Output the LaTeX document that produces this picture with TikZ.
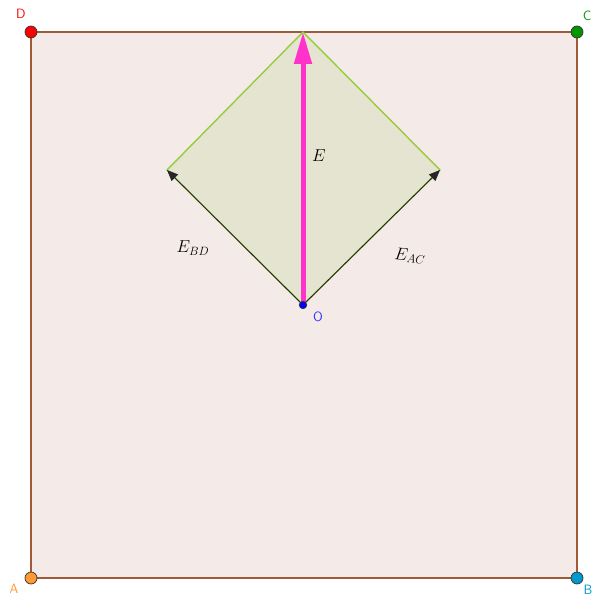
\documentclass[tikz,border=0pt]{standalone}
\usepackage{tikz}
\usetikzlibrary{arrows.meta, positioning, calc}
\definecolor{sqfill}{RGB}{244,234,231}
\definecolor{sqedge}{RGB}{160,90,55}
\definecolor{dmfill}{RGB}{229,228,208}
\definecolor{dmedge}{RGB}{150,205,60}
\definecolor{emag}{RGB}{255,51,204}
\definecolor{ptred}{RGB}{255,0,0}
\definecolor{ptgreen}{RGB}{0,150,0}
\definecolor{ptorange}{RGB}{255,153,51}
\definecolor{ptblue}{RGB}{0,153,204}

\begin{document}
\begin{tikzpicture}[x=1pt, y=-1pt,
    pt/.style={circle, draw=black!80, line width=0.7pt, inner sep=0pt, minimum size=12pt},
    lbl/.style={font=\fontsize{13.5}{15}\selectfont\sffamily},
    mlbl/.style={font=\fontsize{18}{20}\selectfont},
    vec/.style={-{Triangle[length=11pt,width=9pt]}, line width=0.9pt, black!85}
  ]
    \useasboundingbox (0,0) rectangle (593,599);
    % corners of the square
    \coordinate (pA) at (31,578);
    \coordinate (pB) at (577,578);
    \coordinate (pC) at (577,32);
    \coordinate (pD) at (31,32);
    \draw[sqedge, line width=1.4pt, fill=sqfill] (pA) -- (pB) -- (pC) -- (pD) -- cycle;

    % the rhombus of the two fields
    \coordinate (o) at (303,305);
    \coordinate (top) at (303,32);
    \coordinate (lft) at (167,170);
    \coordinate (rgt) at (440,170);
    \draw[dmedge, line width=1.4pt, fill=dmfill] (o) -- (lft) -- (top) -- (rgt) -- cycle;

    \draw[vec] (o) -- (lft);
    \draw[vec] (o) -- (rgt);
    \draw[emag, line width=5pt, -{Triangle[length=32pt,width=17pt]}] (o) -- (top);

    \node[pt, fill=ptorange] (A) at (pA) {};
    \node[pt, fill=ptblue] (B) at (pB) {};
    \node[pt, fill=ptgreen] (C) at (pC) {};
    \node[pt, fill=ptred] (D) at (pD) {};
    \node[pt, fill=blue, minimum size=7.5pt] (O) at (o) {};

    \node[lbl, text=ptred] at (21,14) {D};
    \node[lbl, text=ptgreen] at (587,16) {C};
    \node[lbl, text=ptorange] at (14,589) {A};
    \node[lbl, text=ptblue] at (588,590) {B};
    \node[lbl, text=blue!80] at (318,317) {O};

    \node[mlbl] at (319,156) {$E$};
    \node[mlbl] at (193,248) {$E_{BD}$};
    \node[mlbl, rotate=-5] at (410,256) {$E_{AC}$};
  \end{tikzpicture}
\end{document}
